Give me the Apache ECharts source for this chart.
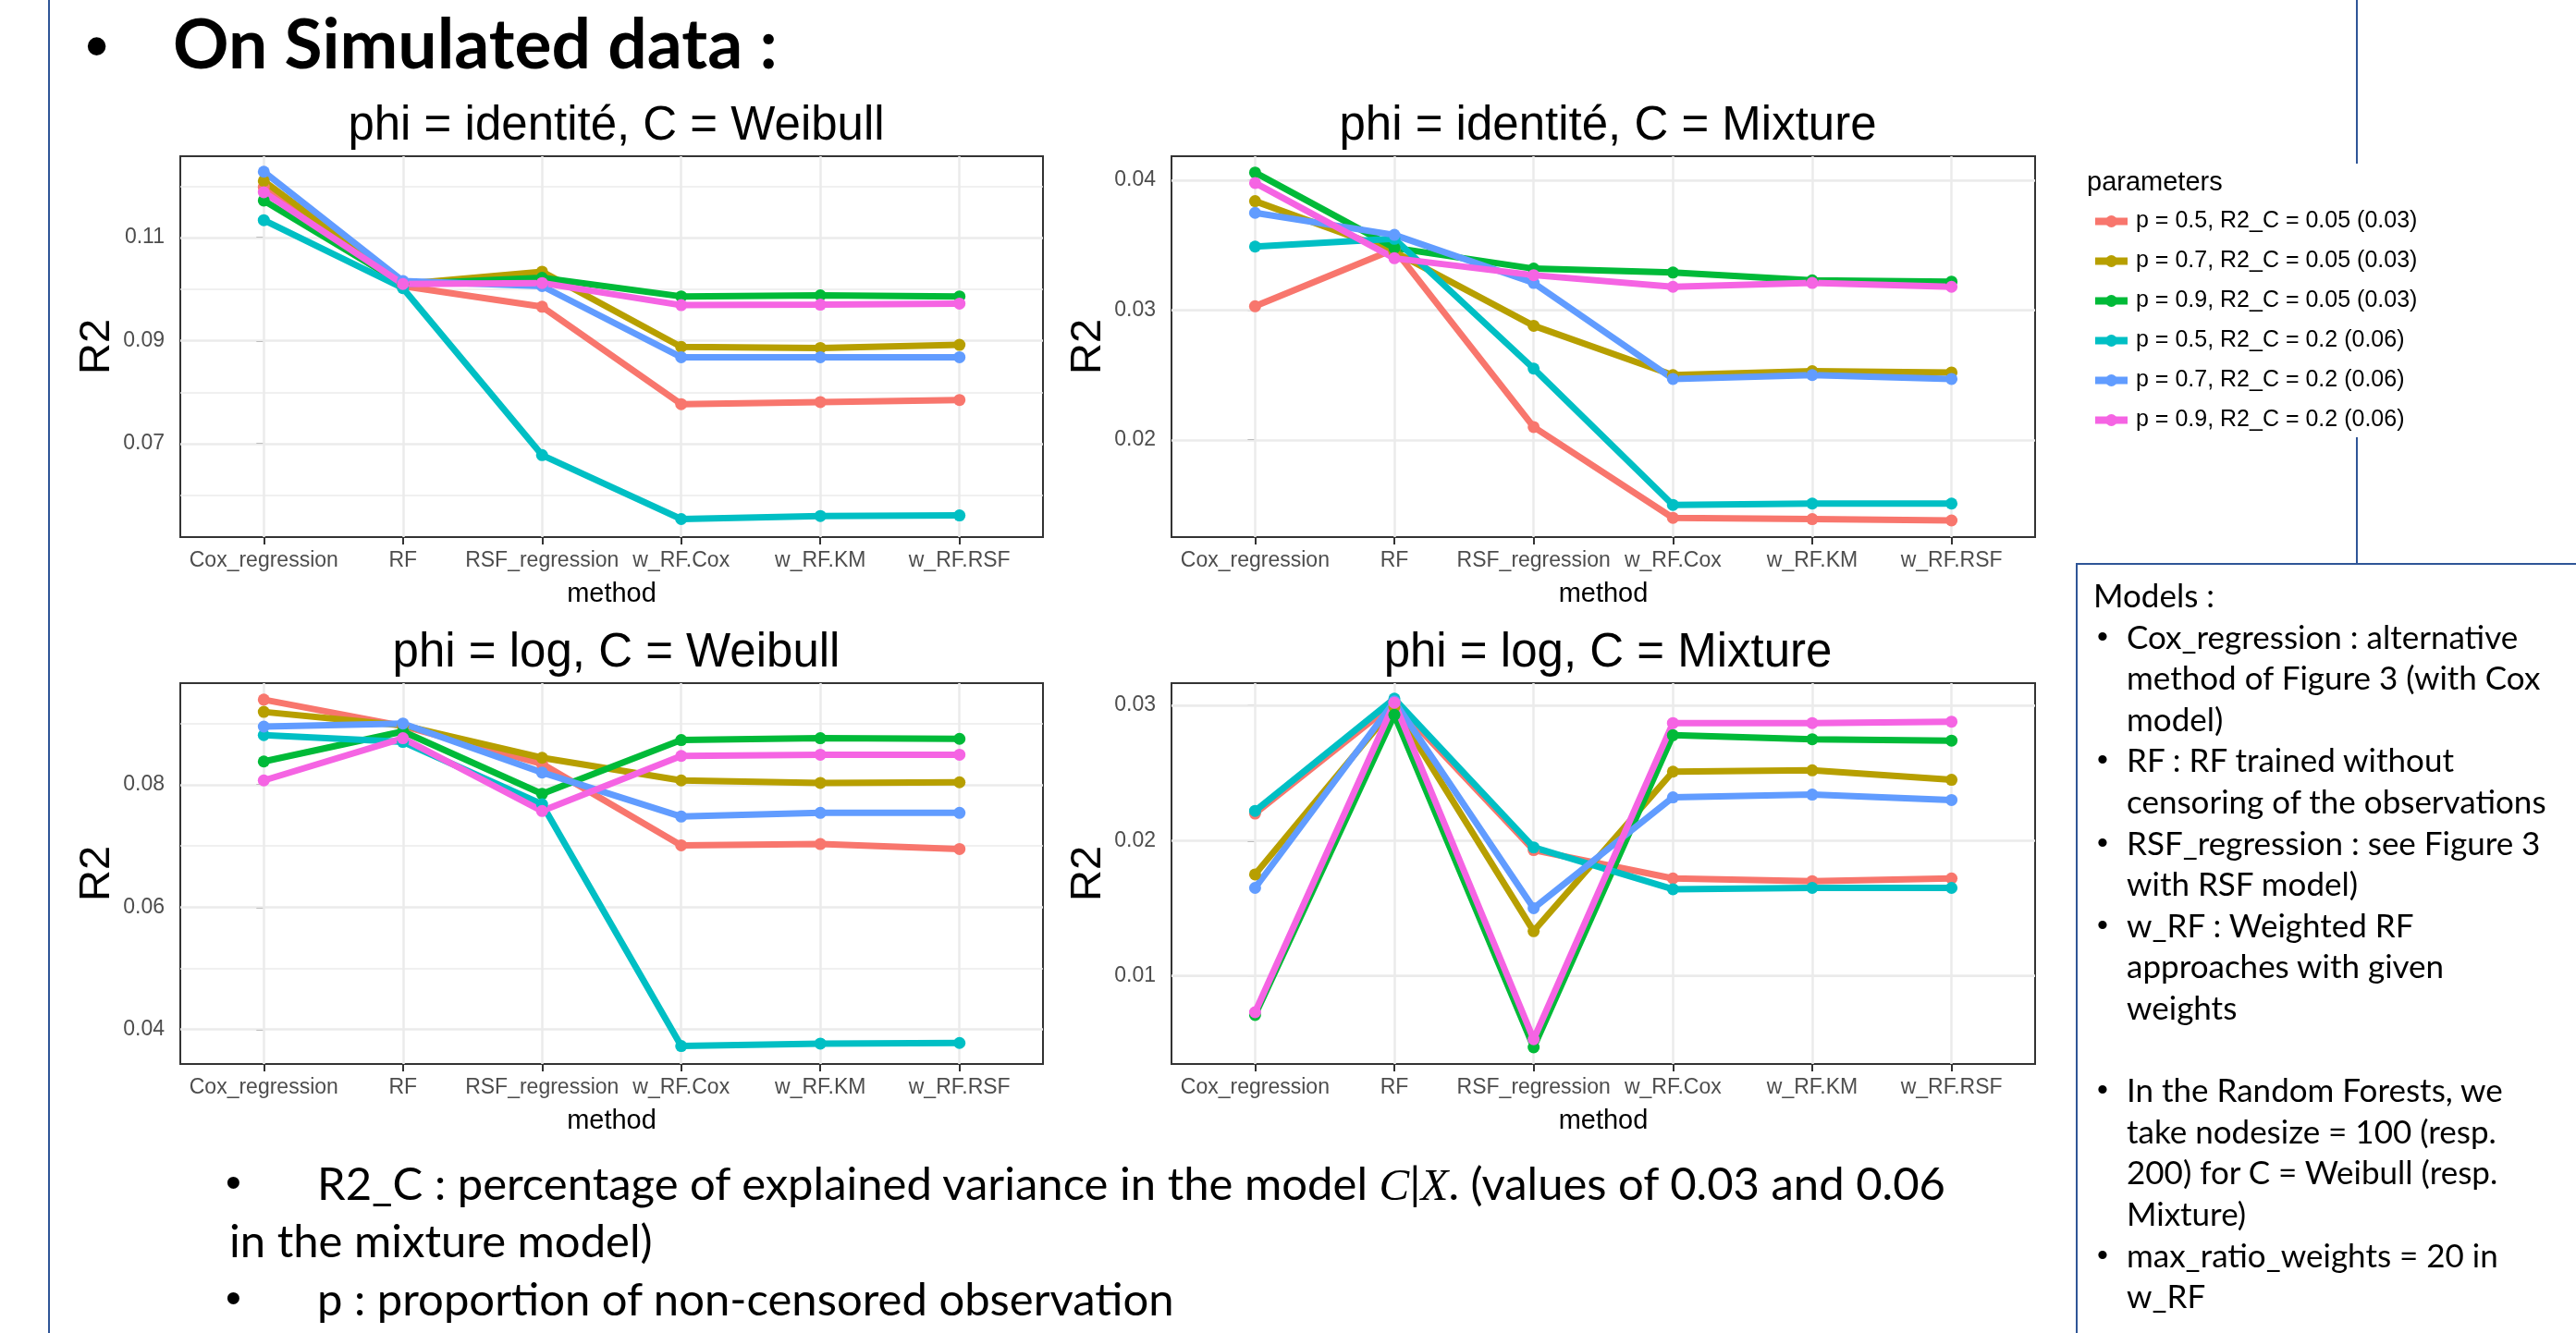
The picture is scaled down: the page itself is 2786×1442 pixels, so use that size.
<!DOCTYPE html>
<html>
<head>
<meta charset="utf-8">
<script src="https://cdn.jsdelivr.net/npm/echarts@6/dist/echarts.min.js"></script>
<style>
    html, body { margin: 0; padding: 0; background: #fff; }
    #page { position: relative; width: 2786px; height: 1442px; overflow: hidden; font-family: Lato, 'Open Sans', sans-serif; color: #000; }
    #chart { position: absolute; left: 0; top: 0; width: 2786px; height: 1442px; }
    .rule { position: absolute; background: #2F5597; }
    .txt { position: absolute; white-space: nowrap; }
    .dot { position: absolute; font-family: 'Liberation Sans', Arial, sans-serif; }
    #modelsBox { position: absolute; left: 2245px; top: 609px; width: 560px; height: 900px; border: 2px solid #2F5597; background: #fff; }
    .math { font-family: 'Liberation Serif', serif; font-style: italic; }
</style>
</head>
<body>
<div id="page">
    <div class="rule" style="left:52px; top:0; width:2px; height:1442px;"></div>
    <div class="rule" style="left:2548px; top:0; width:2px; height:177px;"></div>
    <div class="rule" style="left:2548px; top:473px; width:2px; height:137px;"></div>
    <div id="modelsBox"></div>
    <div id="chart"></div>

    <div class="dot" style="left:92px; top:4px; font-size:72px; line-height:90px;">•</div>
    <div class="txt" style="left:187px; top:0px; font-size:75px; line-height:90px; font-weight:bold;">On Simulated data :</div>

    <div id="notes"></div>
    <div id="models"></div>
</div>
<script>
    // categories and legend labels
    const methods = ['Cox_regression', 'RF', 'RSF_regression', 'w_RF.Cox', 'w_RF.KM', 'w_RF.RSF'];
    const paramLabels = [
        'p = 0.5, R2_C = 0.05 (0.03)',
        'p = 0.7, R2_C = 0.05 (0.03)',
        'p = 0.9, R2_C = 0.05 (0.03)',
        'p = 0.5, R2_C = 0.2 (0.06)',
        'p = 0.7, R2_C = 0.2 (0.06)',
        'p = 0.9, R2_C = 0.2 (0.06)'
    ];

    // R2 per parameter set (rows, same order as paramLabels), per method (columns)
    const identiteWeibull = [
        [0.1198, 0.1006, 0.0966, 0.0777, 0.0781, 0.0785],
        [0.1210, 0.1010, 0.1034, 0.0888, 0.0886, 0.0892],
        [0.1172, 0.1010, 0.1022, 0.0986, 0.0988, 0.0986],
        [0.1134, 0.1002, 0.0678, 0.0554, 0.0560, 0.0561],
        [0.1228, 0.1016, 0.1006, 0.0868, 0.0868, 0.0868],
        [0.1188, 0.1010, 0.1012, 0.0969, 0.0970, 0.0972]
    ];
    const identiteMixture = [
        [0.0303, 0.0347, 0.0210, 0.0140, 0.0139, 0.0138],
        [0.0384, 0.0345, 0.0288, 0.0250, 0.0253, 0.0252],
        [0.0406, 0.0348, 0.0332, 0.0329, 0.0323, 0.0322],
        [0.0349, 0.0355, 0.0255, 0.0150, 0.0151, 0.0151],
        [0.0375, 0.0358, 0.0321, 0.0247, 0.0250, 0.0247],
        [0.0398, 0.0340, 0.0327, 0.0318, 0.0321, 0.0318]
    ];
    const logWeibull = [
        [0.0939, 0.0896, 0.0834, 0.0701, 0.0703, 0.0695],
        [0.0919, 0.0897, 0.0844, 0.0807, 0.0803, 0.0804],
        [0.0838, 0.0887, 0.0785, 0.0873, 0.0876, 0.0875],
        [0.0881, 0.0870, 0.0768, 0.0373, 0.0377, 0.0378],
        [0.0895, 0.0900, 0.0820, 0.0748, 0.0754, 0.0754],
        [0.0807, 0.0876, 0.0757, 0.0847, 0.0849, 0.0849]
    ];
    const logMixture = [
        [0.0220, 0.0302, 0.0193, 0.0172, 0.0170, 0.0172],
        [0.0175, 0.0299, 0.0133, 0.0251, 0.0252, 0.0245],
        [0.0071, 0.0293, 0.0047, 0.0278, 0.0275, 0.0274],
        [0.0222, 0.0305, 0.0195, 0.0164, 0.0165, 0.0165],
        [0.0165, 0.0303, 0.0150, 0.0232, 0.0234, 0.0230],
        [0.0073, 0.0302, 0.0053, 0.0287, 0.0287, 0.0288]
    ];

    // y tick labels (major) and the minor grid lines between them
    const ticksIdWeibull = [0.07, 0.09, 0.11];
    const minorIdWeibull = [0.06, 0.08, 0.10, 0.12];
    const ticksIdMixture = [0.02, 0.03, 0.04];
    const minorIdMixture = [0.015, 0.025, 0.035];
    const ticksLogWeibull = [0.04, 0.06, 0.08];
    const minorLogWeibull = [0.05, 0.07, 0.09];
    const ticksLogMixture = [0.01, 0.02, 0.03];
    const minorLogMixture = [0.005, 0.015, 0.025];

    const colors = ['#F8766D', '#B79F00', '#00BA38', '#00BFC4', '#619CFF', '#F564E3'];
    const plotFont = "'Liberation Sans', Arial, sans-serif";

    const panels = [
        { title: 'phi = identité, C = Weibull', data: identiteWeibull, ticks: ticksIdWeibull, minor: minorIdWeibull,
          left: 195, top: 169, width: 933, height: 412, yMin: 0.0519, yMax: 0.1258 },
        { title: 'phi = identité, C = Mixture', data: identiteMixture, ticks: ticksIdMixture, minor: minorIdMixture,
          left: 1267, top: 169, width: 934, height: 412, yMin: 0.01252, yMax: 0.04186 },
        { title: 'phi = log, C = Weibull', data: logWeibull, ticks: ticksLogWeibull, minor: minorLogWeibull,
          left: 195, top: 739, width: 933, height: 412, yMin: 0.03436, yMax: 0.0966 },
        { title: 'phi = log, C = Mixture', data: logMixture, ticks: ticksLogMixture, minor: minorLogMixture,
          left: 1267, top: 739, width: 934, height: 412, yMin: 0.00347, yMax: 0.03165 }
    ];

    const methodIdx = methods.map((m, i) => i);
    const gridColor = '#ebebeb';

    function gridLines(p) {
        const lines = [];
        p.minor.forEach(v => lines.push({ yAxis: v, lineStyle: { color: gridColor, width: 1.5, type: 'solid' } }));
        p.ticks.forEach(v => lines.push({ yAxis: v, lineStyle: { color: gridColor, width: 2.5, type: 'solid' } }));
        methodIdx.forEach(v => lines.push({ xAxis: v, lineStyle: { color: gridColor, width: 2.5, type: 'solid' } }));
        return lines;
    }

    const series = [];
    panels.forEach((p, i) => {
        p.data.forEach((row, j) => {
            const s = {
                type: 'line',
                name: paramLabels[j],
                xAxisIndex: i,
                yAxisIndex: i,
                data: row.map((v, k) => [methodIdx[k], v]),
                symbol: 'circle',
                symbolSize: 13,
                showSymbol: true,
                lineStyle: { width: 7, color: colors[j] },
                itemStyle: { color: colors[j] },
                emphasis: { disabled: true },
                z: 10
            };
            if (j === 0) {
                s.markLine = {
                    silent: true,
                    z: 1,
                    symbol: ['none', 'none'],
                    label: { show: false },
                    animation: false,
                    data: gridLines(p)
                };
            }
            series.push(s);
        });
    });

    const titles = panels.map(p => ({
        text: p.title,
        left: p.left + p.width / 2,
        top: p.top - 63,
        textAlign: 'center',
        textStyle: { fontSize: 51, fontWeight: 'normal', color: '#000', fontFamily: plotFont }
    }));
    titles.push({
        text: 'parameters',
        left: 2252,
        top: 178,
        textStyle: { fontSize: 29, fontWeight: 'normal', color: '#000', fontFamily: plotFont }
    });

    const chart = echarts.init(document.getElementById('chart'));
    chart.setOption({
        animation: false,
        title: titles,
        legend: {
            orient: 'vertical',
            left: 2257,
            top: 222,
            itemWidth: 35,
            itemHeight: 16,
            itemGap: 18,
            selectedMode: false,
            data: paramLabels,
            lineStyle: { width: 8 },
            textStyle: { fontSize: 25, color: '#000', fontFamily: plotFont, padding: [0, 0, 0, 4] }
        },
        grid: panels.map(p => ({
            left: p.left, top: p.top, width: p.width, height: p.height,
            show: true, borderColor: '#333', borderWidth: 2, backgroundColor: '#fff'
        })),
        xAxis: panels.map((p, i) => ({
            type: 'value',
            gridIndex: i,
            min: -0.6,
            max: 5.6,
            splitLine: { show: false },
            axisLine: { show: false },
            axisTick: { show: true, customValues: methodIdx, length: 8, lineStyle: { color: '#333', width: 2 } },
            axisLabel: {
                customValues: methodIdx,
                formatter: v => methods[Math.round(v)],
                fontSize: 23, color: '#4d4d4d', margin: 14, fontFamily: plotFont
            },
            name: 'method',
            nameLocation: 'middle',
            nameGap: 47,
            nameTextStyle: { fontSize: 29, color: '#000', fontFamily: plotFont }
        })),
        yAxis: panels.map((p, i) => ({
            type: 'value',
            gridIndex: i,
            min: p.yMin,
            max: p.yMax,
            splitLine: { show: false },
            axisLine: { show: false },
            axisTick: { show: true, customValues: p.ticks, length: 8, lineStyle: { color: '#333', width: 2 } },
            axisLabel: {
                customValues: p.ticks,
                formatter: v => v.toFixed(2),
                fontSize: 23, color: '#4d4d4d', margin: 17, fontFamily: plotFont
            },
            name: 'R2',
            nameLocation: 'middle',
            nameRotate: 90,
            nameGap: 66,
            nameTextStyle: { fontSize: 47, color: '#000', fontFamily: plotFont }
        })),
        series: series
    });

    // slide text: notes under the plots
    const notes = document.getElementById('notes');
    const noteLines = [
        { bullet: true, top: 1250, html: 'R2_C : percentage of explained variance in the model <span class="math">C</span>|<span class="math">X</span>. (values of 0.03 and 0.06' },
        { bullet: false, top: 1312, html: 'in the mixture model)' },
        { bullet: true, top: 1375, html: 'p : proportion of non-censored observation' }
    ];
    noteLines.forEach(l => {
        if (l.bullet) {
            const b = document.createElement('div');
            b.className = 'dot';
            b.style.cssText = 'left:244px; top:' + l.top + 'px; font-size:48px; line-height:58px;';
            b.textContent = '•';
            notes.appendChild(b);
        }
        const d = document.createElement('div');
        d.className = 'txt';
        d.style.cssText = 'left:' + (l.bullet ? 343 : 248) + 'px; top:' + l.top + 'px; font-size:49px; line-height:58px;';
        d.innerHTML = l.html;
        notes.appendChild(d);
    });

    // slide text: models box
    const models = document.getElementById('models');
    const modelLines = [
        [false, 'Models :'],
        [true, 'Cox_regression : alternative'],
        [false, 'method of Figure 3 (with Cox'],
        [false, 'model)'],
        [true, 'RF : RF trained without'],
        [false, 'censoring of the observations'],
        [true, 'RSF_regression : see Figure 3'],
        [false, 'with RSF model)'],
        [true, 'w_RF : Weighted RF'],
        [false, 'approaches with given'],
        [false, 'weights'],
        [false, ''],
        [true, 'In the Random Forests, we'],
        [false, 'take nodesize = 100 (resp.'],
        [false, '200) for C = Weibull (resp.'],
        [false, 'Mixture)'],
        [true, 'max_ratio_weights = 20 in'],
        [false, 'w_RF']
    ];
    modelLines.forEach((l, i) => {
        const top = 621 + i * 44.6;
        if (l[0]) {
            const b = document.createElement('div');
            b.className = 'dot';
            b.style.cssText = 'left:2268px; top:' + top + 'px; font-size:34px; line-height:44px;';
            b.textContent = '•';
            models.appendChild(b);
        }
        const d = document.createElement('div');
        d.className = 'txt';
        d.style.cssText = 'left:' + (i === 0 ? 2264 : 2300) + 'px; top:' + top + 'px; font-size:35px; line-height:44px;';
        d.textContent = l[1];
        models.appendChild(d);
    });
</script>
</body>
</html>
